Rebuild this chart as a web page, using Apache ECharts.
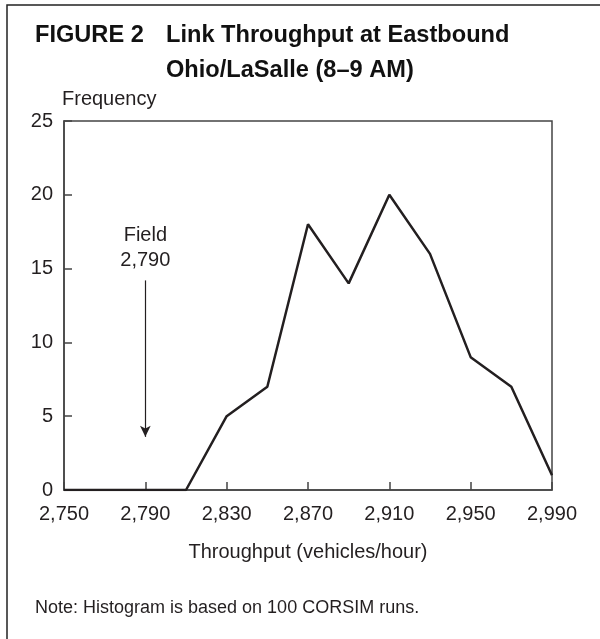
<!DOCTYPE html>
<html>
<head>
<meta charset="utf-8">
<title>Link Throughput at Eastbound Ohio/LaSalle</title>
<script src="https://cdn.jsdelivr.net/npm/echarts@6/dist/echarts.min.js"></script>
<style>
  html, body { margin: 0; padding: 0; background: #fff; }
  #chart { width: 600px; height: 639px; }
</style>
</head>
<body>
<div id="chart"></div>
<script>
// throughput bins (vehicles/hour), every 20
var throughput = ['2,750', '2,770', '2,790', '2,810', '2,830', '2,850', '2,870',
  '2,890', '2,910', '2,930', '2,950', '2,970', '2,990']
// frequency out of 100 CORSIM runs
var frequency = [0, 0, 0, 0, 5, 7, 18, 14, 20, 16, 9, 7, 1]
var yTicks = [0, 5, 10, 15, 20, 25]

// field observation marker
var fieldValue = '2,790'
var fieldArrow = [14.2, 3.6]
var fieldLabelAt = 16.4

var fieldIdx = throughput.indexOf(fieldValue)
var font = '"Liberation Sans", Arial, Helvetica, sans-serif'
var ink = '#231f20'
var titleFont = 'bold 23.6px ' + font

var myChart = echarts.init(document.getElementById('chart'), null, { renderer: 'canvas' })

myChart.setOption({
  backgroundColor: '#fff',
  animation: false,
  textStyle: { fontFamily: font, color: ink },
  grid: {
    left: 64,
    right: 48,
    top: 121,
    bottom: 149,
    show: true,
    borderColor: '#444',
    borderWidth: 1.5
  },
  graphic: [
    // outer figure frame (only top and left edges fall inside the picture)
    {
      type: 'rect',
      shape: { x: 7, y: 5, width: 700, height: 800 },
      style: { fill: 'none', stroke: '#222', lineWidth: 1.5 },
      silent: true
    },
    {
      type: 'text',
      x: 35, y: 35,
      style: { text: 'FIGURE 2', font: titleFont, fill: '#111', verticalAlign: 'middle' }
    },
    {
      type: 'text',
      x: 166, y: 35,
      style: { text: 'Link Throughput at Eastbound', font: titleFont, fill: '#111', verticalAlign: 'middle' }
    },
    {
      type: 'text',
      x: 166, y: 70,
      style: { text: 'Ohio/LaSalle (8\u20139 AM)', font: titleFont, fill: '#111', verticalAlign: 'middle' }
    },
    {
      type: 'text',
      x: 35, y: 608,
      style: { text: 'Note: Histogram is based on 100 CORSIM runs.', font: '18px ' + font, fill: ink, verticalAlign: 'middle' }
    }
  ],
  xAxis: {
    type: 'category',
    data: throughput,
    boundaryGap: false,
    name: 'Throughput (vehicles/hour)',
    nameLocation: 'middle',
    nameGap: 52,
    nameTextStyle: { fontSize: 20, color: ink },
    axisLine: { lineStyle: { color: '#444', width: 1.5 } },
    axisTick: { show: true, inside: true, length: 8, interval: 1, lineStyle: { color: '#444', width: 1.5 } },
    axisLabel: { interval: 1, fontSize: 20, color: ink, margin: 14 },
    splitLine: { show: false }
  },
  yAxis: {
    type: 'value',
    min: yTicks[0],
    max: yTicks[yTicks.length - 1],
    interval: 5,
    name: 'Frequency',
    nameLocation: 'end',
    nameGap: 12,
    nameTextStyle: { fontSize: 20, color: ink, align: 'left', padding: [0, 0, 0, -2] },
    axisLine: { show: true, lineStyle: { color: '#444', width: 1.5 } },
    axisTick: { show: true, inside: true, length: 8, lineStyle: { color: '#444', width: 1.5 } },
    axisLabel: { fontSize: 20, color: ink, margin: 11 },
    splitLine: { show: false }
  },
  series: [
    {
      name: 'Frequency',
      type: 'line',
      data: frequency,
      symbol: 'none',
      lineStyle: { color: ink, width: 2.5 },
      markLine: {
        silent: true,
        symbol: ['none', 'arrow'],
        symbolSize: [8, 11],
        label: { show: false },
        itemStyle: { color: ink },
        lineStyle: { color: ink, width: 1.2, type: 'solid' },
        data: [
          [{ coord: [fieldIdx, fieldArrow[0]] }, { coord: [fieldIdx, fieldArrow[1]] }]
        ]
      },
      markPoint: {
        silent: true,
        symbol: 'circle',
        symbolSize: 0,
        label: {
          show: true,
          position: 'inside',
          formatter: 'Field\n' + fieldValue,
          fontSize: 20,
          lineHeight: 25,
          color: ink,
          fontFamily: font
        },
        data: [{ coord: [fieldIdx, fieldLabelAt] }]
      }
    }
  ]
})
</script>
</body>
</html>
